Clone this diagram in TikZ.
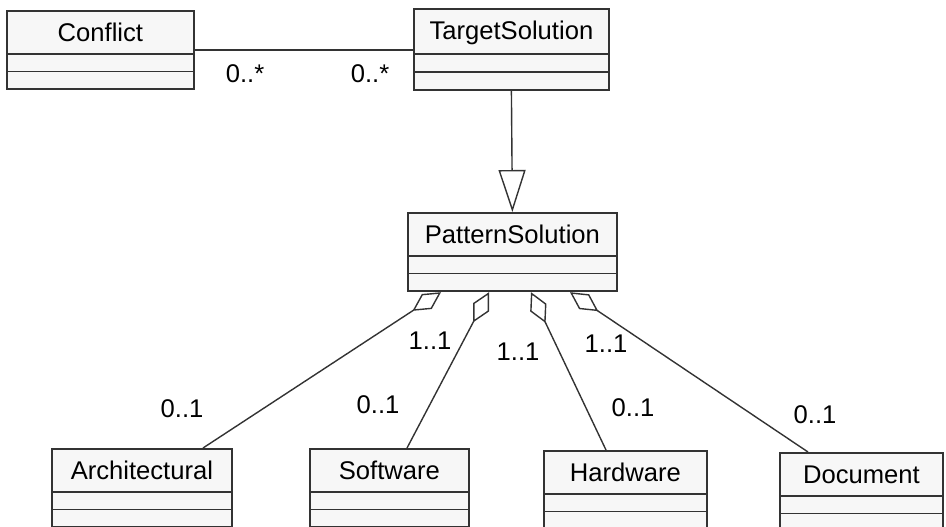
\documentclass[tikz,border=0pt]{standalone}
\usepackage{fontspec}
\setmainfont{Liberation Sans}
\usetikzlibrary{shapes.multipart,arrows.meta}
\newcommand\classparts[1]{\rule[-1.5pt]{0pt}{12.5pt}#1\nodepart{two}\nodepart{three}}
\begin{document}
\begin{tikzpicture}[x=0.5pt,y=-0.5pt,
	umlclass/.style={rectangle split,rectangle split parts=3,draw=black!80,fill=black!3,line width=0.9pt,inner xsep=0pt,inner ysep=4pt,align=center,anchor=north west,font=\fontsize{12.8}{15}\selectfont},
	assoc/.style={draw=black!80,line width=0.7pt},
	mult/.style={inner sep=0pt,font=\fontsize{12.8}{15}\selectfont}]
				\useasboundingbox (0,0) rectangle (946,526);
				\node[umlclass,text width=93.5pt] (conflict) at (6,10) {\classparts{Conflict}};
				\node[umlclass,text width=97.5pt] (target) at (413,8) {\classparts{TargetSolution}};
				\node[umlclass,text width=104.5pt] (pattern) at (407,212) {\classparts{PatternSolution}};
				\node[umlclass,text width=90pt] (archi) at (51,448) {\classparts{Architectural}};
				\node[umlclass,text width=79.5pt] (soft) at (309,448) {\classparts{Software}};
				\node[umlclass,text width=81.5pt] (hard) at (543,450) {\classparts{Hardware}};
				\node[umlclass,text width=81.5pt] (doc) at (779,452) {\classparts{Document}};
				\draw[assoc] (conflict.east) -- (conflict.east -| target.west);
				\draw[assoc,-{Triangle[open,length=21pt,width=13.5pt]}] (target.south) -- (pattern.north);
				\draw[assoc,{Diamond[open,length=17pt,width=9pt]}-] ([xshift=17pt]pattern.south west) -- ([xshift=76pt]archi.north west);
				\draw[assoc,{Diamond[open,length=17pt,width=9pt]}-] ([xshift=41pt]pattern.south west) -- ([xshift=49pt]soft.north west);
				\draw[assoc,{Diamond[open,length=17pt,width=9pt]}-] ([xshift=62pt]pattern.south west) -- ([xshift=31.5pt]hard.north west);
				\draw[assoc,{Diamond[open,length=17pt,width=9pt]}-] ([xshift=81.5pt]pattern.south west) -- ([xshift=14.5pt]doc.north west);
				\node[mult] (cm1) at (245,74) {0..*};
				\node[mult] (cm2) at (370,74) {0..*};
				\node[mult] (pm1) at (430,341) {1..1};
				\node[mult] (pm2) at (518,352) {1..1};
				\node[mult] (pm3) at (606,344) {1..1};
				\node[mult] (am) at (182,409) {0..1};
				\node[mult] (sm) at (378,405) {0..1};
				\node[mult] (hm) at (633,408) {0..1};
				\node[mult] (dm) at (815,415) {0..1};
			\end{tikzpicture}
\end{document}
